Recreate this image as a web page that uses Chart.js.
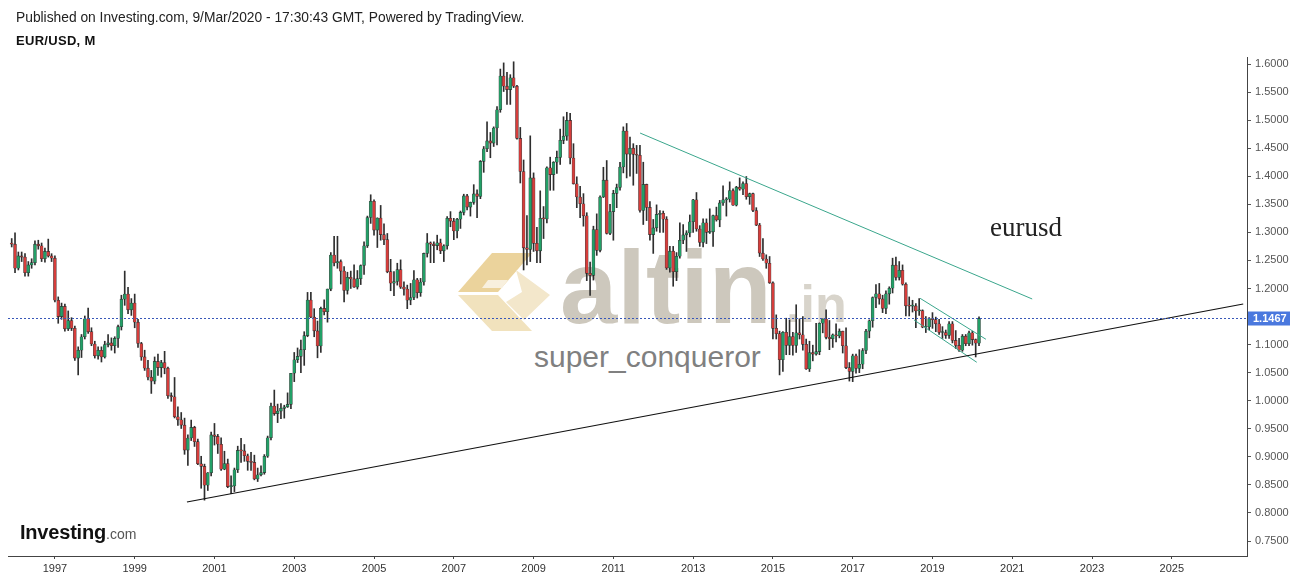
<!DOCTYPE html>
<html>
<head>
<meta charset="utf-8">
<title>EUR/USD, M</title>
<script src="https://cdn.jsdelivr.net/npm/chart.js@4.4.1/dist/chart.umd.min.js"></script>
<style>
    body { margin: 0; background: #fff; font-family: Arial, "Liberation Sans", sans-serif; }
    #wrap { position: relative; width: 1299px; height: 580px; overflow: hidden; background: #fff; }
    #chart { position: absolute; left: 0; top: 0; z-index: 1; }
    .txt { position: absolute; white-space: nowrap; line-height: 1; }
    .under { z-index: 0; }
    .over { z-index: 2; }
</style>
</head>
<body>
<div id="wrap">
    <div class="txt over" style="left:16px; top:11px; font-size:13.8px; color:#222;">Published on Investing.com, 9/Mar/2020 - 17:30:43 GMT, Powered by TradingView.</div>
    <div class="txt over" style="left:16px; top:34px; font-size:13px; font-weight:bold; letter-spacing:0.3px; color:#111;">EUR/USD, M</div>

    <!-- watermark, sits under the canvas so the candles paint over it -->
    <svg class="under" style="position:absolute; left:458px; top:250px;" width="100" height="86" viewBox="0 0 100 86">
        <polygon points="34,3 74,3 40,42 0,42" fill="#ebd39c"/>
        <polygon points="0,45 40,45 74,81 34,81" fill="#f1e2bd"/>
        <polygon points="58,20 92,45 66,70 48,52 64,42" fill="#f3e7cb"/>
        <polygon points="30,30 50,30 44,38 24,38" fill="#f8f0de"/>
    </svg>
    <div class="txt under" style="left:560px; top:236px; font-size:103px; font-weight:bold; color:#cdc8bd;">altin</div>
    <div class="txt under" style="left:786px; top:278px; font-size:52px; font-weight:bold; color:#d8d4cb;">.in</div>
    <div class="txt under" style="left:534px; top:342px; font-size:30px; color:#808080;">super_conqueror</div>

    <div class="txt over" style="left:990px; top:214px; font-size:27px; font-family:'Liberation Serif','Times New Roman',serif; color:#222;">eurusd</div>
    <div class="txt over" style="left:20px; top:522px; font-size:20px; font-weight:bold; color:#111; letter-spacing:-0.2px;">Investing<span style="font-size:14px; font-weight:normal; color:#555; letter-spacing:0;">.com</span></div>

    <canvas id="chart" width="1299" height="580"></canvas>
</div>

<script>
// monthly candles, first bar is Dec 1995, last bar is Mar 2020
const startYear = 1995;
const startMonth = 11; // 0 = Jan

const opens = [
    1.2810,
    1.2790, 1.2360, 1.2580, 1.2560, 1.2280, 1.2420, 1.2460, 1.2790, 1.2760, 1.2530, 1.2660, 1.2580,
    1.2540, 1.1790, 1.1500, 1.1680, 1.1280, 1.1430, 1.1290, 1.0760, 1.0900, 1.1140, 1.1460, 1.1230,
    1.1010, 1.0800, 1.0900, 1.0780, 1.1000, 1.1030, 1.0980, 1.1110, 1.1320, 1.1810, 1.1900, 1.1620,
    1.1740, 1.1400, 1.1020, 1.0780, 1.0580, 1.0420, 1.0350, 1.0700, 1.0590, 1.0680, 1.0580, 1.0090,
    1.0070, 0.9715, 0.9660, 0.9565, 0.9120, 0.9335, 0.9525, 0.9270, 0.8875, 0.8830, 0.8495, 0.8715,
    0.9390, 0.9365, 0.9225, 0.8780, 0.8880, 0.8470, 0.8480, 0.8770, 0.9115, 0.9105, 0.9020, 0.8920,
    0.8900, 0.8605, 0.8680, 0.8720, 0.9010, 0.9340, 0.9905, 0.9770, 0.9815, 0.9865, 0.9890, 0.9935,
    1.0490, 1.0730, 1.0790, 1.0910, 1.1160, 1.1795, 1.1490, 1.1245, 1.0975, 1.1645, 1.1585, 1.1990,
    1.2595, 1.2455, 1.2480, 1.2310, 1.1965, 1.2200, 1.2170, 1.2025, 1.2175, 1.2410, 1.2760, 1.3265,
    1.3555, 1.3040, 1.3255, 1.2960, 1.2870, 1.2300, 1.2095, 1.2125, 1.2335, 1.2025, 1.1990, 1.1790,
    1.1840, 1.2155, 1.1925, 1.2115, 1.2625, 1.2815, 1.2790, 1.2765, 1.2815, 1.2670, 1.2760, 1.3250,
    1.3200, 1.3025, 1.3235, 1.3355, 1.3650, 1.3450, 1.3535, 1.3685, 1.3640, 1.4265, 1.4490, 1.4630,
    1.4590, 1.4860, 1.5185, 1.5785, 1.5605, 1.5545, 1.5755, 1.5605, 1.4675, 1.4085, 1.2725, 1.2695,
    1.3970, 1.2805, 1.2670, 1.3250, 1.3240, 1.4150, 1.4030, 1.4250, 1.4335, 1.4640, 1.4715, 1.4995,
    1.4325, 1.3865, 1.3630, 1.3510, 1.3295, 1.2270, 1.2235, 1.3050, 1.2680, 1.3630, 1.3930, 1.2980,
    1.3370, 1.3695, 1.3800, 1.4165, 1.4805, 1.4395, 1.4500, 1.4390, 1.4375, 1.3390, 1.3855, 1.3445,
    1.2960, 1.3080, 1.3320, 1.3340, 1.3235, 1.2365, 1.2665, 1.2300, 1.2575, 1.2860, 1.2955, 1.2990,
    1.3190, 1.3580, 1.3060, 1.2820, 1.3170, 1.3000, 1.3010, 1.3300, 1.3220, 1.3525, 1.3580, 1.3590,
    1.3745, 1.3485, 1.3805, 1.3770, 1.3870, 1.3635, 1.3690, 1.3390, 1.3130, 1.2630, 1.2525, 1.2450,
    1.2100, 1.1290, 1.1195, 1.0730, 1.1220, 1.0985, 1.1145, 1.0985, 1.1210, 1.1175, 1.1005, 1.0565,
    1.0860, 1.0830, 1.0875, 1.1380, 1.1455, 1.1130, 1.1105, 1.1175, 1.1155, 1.1240, 1.0980, 1.0590,
    1.0520, 1.0800, 1.0575, 1.0650, 1.0895, 1.1240, 1.1425, 1.1840, 1.1905, 1.1815, 1.1645, 1.1905,
    1.2005, 1.2415, 1.2195, 1.2325, 1.2075, 1.1690, 1.1685, 1.1690, 1.1600, 1.1605, 1.1310, 1.1315,
    1.1465, 1.1445, 1.1370, 1.1215, 1.1215, 1.1165, 1.1370, 1.1075, 1.0985, 1.0900, 1.1150, 1.1015,
    1.1210, 1.1090, 1.1025
];

const highs = [
    1.2890,
    1.2990, 1.2650, 1.2650, 1.2620, 1.2480, 1.2530, 1.2850, 1.2860, 1.2810, 1.2720, 1.2880, 1.2620,
    1.2580, 1.1850, 1.1740, 1.1720, 1.1600, 1.1480, 1.1330, 1.0960, 1.1180, 1.1510, 1.1650, 1.1300,
    1.1060, 1.0960, 1.0960, 1.1060, 1.1180, 1.1120, 1.1140, 1.1350, 1.1880, 1.2310, 1.2020, 1.1820,
    1.1900, 1.1450, 1.1040, 1.0900, 1.0720, 1.0540, 1.0780, 1.0830, 1.0720, 1.0880, 1.0600, 1.0140,
    1.0414, 0.9890, 0.9790, 0.9690, 0.9390, 0.9655, 0.9545, 0.9315, 0.9010, 0.8870, 0.8720, 0.9440,
    0.9595, 0.9400, 0.9340, 0.9100, 0.8960, 0.8660, 0.8800, 0.9190, 0.9330, 0.9220, 0.9050, 0.9080,
    0.9030, 0.8800, 0.8840, 0.9040, 0.9370, 0.9960, 1.0190, 0.9940, 0.9950, 0.9920, 1.0140, 1.0490,
    1.0860, 1.0940, 1.1080, 1.1230, 1.1930, 1.1930, 1.1640, 1.1420, 1.1670, 1.1800, 1.1990, 1.2640,
    1.2930, 1.2930, 1.2510, 1.2390, 1.2290, 1.2310, 1.2420, 1.2320, 1.2420, 1.2830, 1.3290, 1.3670,
    1.3580, 1.3260, 1.3480, 1.3150, 1.2980, 1.2520, 1.2300, 1.2450, 1.2510, 1.2120, 1.2060, 1.2090,
    1.2320, 1.2180, 1.2180, 1.2630, 1.2980, 1.2830, 1.2830, 1.2950, 1.2880, 1.2780, 1.3280, 1.3370,
    1.3250, 1.3250, 1.3380, 1.3680, 1.3680, 1.3540, 1.3850, 1.3760, 1.4280, 1.4530, 1.4970, 1.4780,
    1.4880, 1.5240, 1.5910, 1.6020, 1.5850, 1.5810, 1.6040, 1.5620, 1.4870, 1.4290, 1.3300, 1.4720,
    1.4060, 1.3090, 1.3740, 1.3460, 1.4170, 1.4340, 1.4260, 1.4450, 1.4840, 1.5060, 1.5140, 1.5120,
    1.4580, 1.3990, 1.3820, 1.3690, 1.3350, 1.2470, 1.3110, 1.3330, 1.3650, 1.4160, 1.4280, 1.3500,
    1.3750, 1.3860, 1.4250, 1.4880, 1.4940, 1.4700, 1.4580, 1.4550, 1.4550, 1.4250, 1.3860, 1.3550,
    1.3230, 1.3490, 1.3390, 1.3380, 1.3280, 1.2750, 1.2750, 1.2640, 1.3170, 1.3140, 1.3030, 1.3310,
    1.3590, 1.3710, 1.3120, 1.3240, 1.3240, 1.3420, 1.3310, 1.3450, 1.3570, 1.3830, 1.3620, 1.3900,
    1.3775, 1.3820, 1.3970, 1.3900, 1.3995, 1.3700, 1.3700, 1.3440, 1.3160, 1.2890, 1.2600, 1.2570,
    1.2120, 1.1530, 1.1240, 1.1230, 1.1470, 1.1440, 1.1220, 1.1710, 1.1460, 1.1500, 1.1100, 1.1060,
    1.0990, 1.1380, 1.1390, 1.1460, 1.1620, 1.1430, 1.1190, 1.1370, 1.1280, 1.1240, 1.1300, 1.0680,
    1.0830, 1.0830, 1.0910, 1.0930, 1.1270, 1.1440, 1.1850, 1.2070, 1.2090, 1.1880, 1.1960, 1.2030,
    1.2540, 1.2560, 1.2480, 1.2420, 1.2100, 1.1850, 1.1790, 1.1730, 1.1820, 1.1620, 1.1500, 1.1480,
    1.1570, 1.1490, 1.1450, 1.1320, 1.1260, 1.1410, 1.1410, 1.1250, 1.1110, 1.1180, 1.1180, 1.1240,
    1.1240, 1.1100, 1.1495
];

const lows = [
    1.2740,
    1.2280, 1.2330, 1.2480, 1.2220, 1.2220, 1.2360, 1.2420, 1.2700, 1.2480, 1.2470, 1.2560, 1.2480,
    1.1760, 1.1380, 1.1450, 1.1240, 1.1250, 1.1250, 1.0720, 1.0460, 1.0770, 1.1100, 1.1200, 1.0980,
    1.0760, 1.0740, 1.0690, 1.0760, 1.0960, 1.0900, 1.0850, 1.0950, 1.1260, 1.1700, 1.1550, 1.1520,
    1.1300, 1.0950, 1.0720, 1.0540, 1.0370, 1.0130, 1.0300, 1.0450, 1.0420, 1.0480, 1.0040, 0.9990,
    0.9693, 0.9560, 0.9505, 0.9045, 0.8845, 0.9290, 0.9185, 0.8860, 0.8440, 0.8228, 0.8400, 0.8660,
    0.9210, 0.9060, 0.8760, 0.8770, 0.8450, 0.8345, 0.8380, 0.8720, 0.8900, 0.8920, 0.8760, 0.8760,
    0.8590, 0.8560, 0.8660, 0.8690, 0.8990, 0.9300, 0.9740, 0.9610, 0.9680, 0.9690, 0.9880, 0.9860,
    1.0340, 1.0680, 1.0500, 1.0630, 1.1140, 1.1480, 1.1140, 1.0765, 1.0860, 1.1530, 1.1400, 1.1960,
    1.2400, 1.2360, 1.2080, 1.1760, 1.1900, 1.2000, 1.2020, 1.1990, 1.2070, 1.2250, 1.2730, 1.3160,
    1.2950, 1.2730, 1.2860, 1.2780, 1.2280, 1.1960, 1.1870, 1.2060, 1.2000, 1.1880, 1.1640, 1.1710,
    1.1800, 1.1830, 1.1860, 1.2060, 1.2560, 1.2460, 1.2460, 1.2690, 1.2620, 1.2480, 1.2700, 1.3100,
    1.2870, 1.2900, 1.3070, 1.3310, 1.3400, 1.3290, 1.3500, 1.3260, 1.3600, 1.4070, 1.4440, 1.4330,
    1.4530, 1.4560, 1.5140, 1.5510, 1.5280, 1.5280, 1.5580, 1.4660, 1.3880, 1.2330, 1.2420, 1.2480,
    1.2660, 1.2460, 1.2460, 1.2890, 1.3170, 1.3750, 1.3750, 1.4050, 1.4210, 1.4580, 1.4640, 1.4220,
    1.3860, 1.3440, 1.3260, 1.3110, 1.2140, 1.1875, 1.2150, 1.2590, 1.2650, 1.3620, 1.2970, 1.2960,
    1.2860, 1.3440, 1.3750, 1.4060, 1.3970, 1.4000, 1.3840, 1.4050, 1.3360, 1.3140, 1.3210, 1.2860,
    1.2625, 1.3020, 1.3000, 1.3000, 1.2340, 1.2290, 1.2040, 1.2140, 1.2540, 1.2800, 1.2660, 1.2920,
    1.3000, 1.3020, 1.2750, 1.2740, 1.2800, 1.2980, 1.2750, 1.3200, 1.3100, 1.3480, 1.3290, 1.3540,
    1.3480, 1.3470, 1.3750, 1.3670, 1.3590, 1.3500, 1.3370, 1.3120, 1.2570, 1.2500, 1.2360, 1.2090,
    1.1100, 1.1100, 1.0460, 1.0520, 1.0820, 1.0820, 1.0810, 1.0860, 1.1100, 1.0900, 1.0560, 1.0520,
    1.0710, 1.0810, 1.0820, 1.1210, 1.1100, 1.0910, 1.0950, 1.1050, 1.1120, 1.0850, 1.0570, 1.0350,
    1.0340, 1.0490, 1.0500, 1.0570, 1.0840, 1.1120, 1.1310, 1.1660, 1.1720, 1.1570, 1.1550, 1.1720,
    1.1920, 1.2150, 1.2150, 1.2060, 1.1510, 1.1510, 1.1580, 1.1300, 1.1520, 1.1300, 1.1215, 1.1260,
    1.1290, 1.1230, 1.1180, 1.1110, 1.1110, 1.1110, 1.1030, 1.0930, 1.0880, 1.0880, 1.0980, 1.0980,
    1.0990, 1.0780, 1.0980
];

const closes = [
    1.2790,
    1.2360, 1.2580, 1.2560, 1.2280, 1.2420, 1.2460, 1.2790, 1.2760, 1.2530, 1.2660, 1.2580, 1.2540,
    1.1790, 1.1500, 1.1680, 1.1280, 1.1430, 1.1290, 1.0760, 1.0900, 1.1140, 1.1460, 1.1230, 1.1010,
    1.0800, 1.0900, 1.0780, 1.1000, 1.1030, 1.0980, 1.1110, 1.1320, 1.1810, 1.1900, 1.1620, 1.1740,
    1.1400, 1.1020, 1.0780, 1.0580, 1.0420, 1.0350, 1.0700, 1.0590, 1.0680, 1.0580, 1.0090, 1.0070,
    0.9715, 0.9660, 0.9565, 0.9120, 0.9335, 0.9525, 0.9270, 0.8875, 0.8830, 0.8495, 0.8715, 0.9390,
    0.9365, 0.9225, 0.8780, 0.8880, 0.8470, 0.8480, 0.8770, 0.9115, 0.9105, 0.9020, 0.8920, 0.8900,
    0.8605, 0.8680, 0.8720, 0.9010, 0.9340, 0.9905, 0.9770, 0.9815, 0.9865, 0.9890, 0.9935, 1.0490,
    1.0730, 1.0790, 1.0910, 1.1160, 1.1795, 1.1490, 1.1245, 1.0975, 1.1645, 1.1585, 1.1990, 1.2595,
    1.2455, 1.2480, 1.2310, 1.1965, 1.2200, 1.2170, 1.2025, 1.2175, 1.2410, 1.2760, 1.3265, 1.3555,
    1.3040, 1.3255, 1.2960, 1.2870, 1.2300, 1.2095, 1.2125, 1.2335, 1.2025, 1.1990, 1.1790, 1.1840,
    1.2155, 1.1925, 1.2115, 1.2625, 1.2815, 1.2790, 1.2765, 1.2815, 1.2670, 1.2760, 1.3250, 1.3200,
    1.3025, 1.3235, 1.3355, 1.3650, 1.3450, 1.3535, 1.3685, 1.3640, 1.4265, 1.4490, 1.4630, 1.4590,
    1.4860, 1.5185, 1.5785, 1.5605, 1.5545, 1.5755, 1.5605, 1.4675, 1.4085, 1.2725, 1.2695, 1.3970,
    1.2805, 1.2670, 1.3250, 1.3240, 1.4150, 1.4030, 1.4250, 1.4335, 1.4640, 1.4715, 1.4995, 1.4325,
    1.3865, 1.3630, 1.3510, 1.3295, 1.2270, 1.2235, 1.3050, 1.2680, 1.3630, 1.3930, 1.2980, 1.3370,
    1.3695, 1.3800, 1.4165, 1.4805, 1.4395, 1.4500, 1.4390, 1.4375, 1.3390, 1.3855, 1.3445, 1.2960,
    1.3080, 1.3320, 1.3340, 1.3235, 1.2365, 1.2665, 1.2300, 1.2575, 1.2860, 1.2955, 1.2990, 1.3190,
    1.3580, 1.3060, 1.2820, 1.3170, 1.3000, 1.3010, 1.3300, 1.3220, 1.3525, 1.3580, 1.3590, 1.3745,
    1.3485, 1.3805, 1.3770, 1.3870, 1.3635, 1.3690, 1.3390, 1.3130, 1.2630, 1.2525, 1.2450, 1.2100,
    1.1290, 1.1195, 1.0730, 1.1220, 1.0985, 1.1145, 1.0985, 1.1210, 1.1175, 1.1005, 1.0565, 1.0860,
    1.0830, 1.0875, 1.1380, 1.1455, 1.1130, 1.1105, 1.1175, 1.1155, 1.1240, 1.0980, 1.0590, 1.0520,
    1.0800, 1.0575, 1.0650, 1.0895, 1.1240, 1.1425, 1.1840, 1.1905, 1.1815, 1.1645, 1.1905, 1.2005,
    1.2415, 1.2195, 1.2325, 1.2075, 1.1690, 1.1685, 1.1690, 1.1600, 1.1605, 1.1310, 1.1315, 1.1465,
    1.1445, 1.1370, 1.1215, 1.1215, 1.1165, 1.1370, 1.1075, 1.0985, 1.0900, 1.1150, 1.1015, 1.1210,
    1.1090, 1.1025, 1.1467
];

const lastPrice = 1.1467;

// axis labels
const xTickYears = [1997, 1999, 2001, 2003, 2005, 2007, 2009, 2011, 2013, 2015, 2017, 2019, 2021, 2023, 2025];
const yTickValues = [0.75, 0.80, 0.85, 0.90, 0.95, 1.00, 1.05, 1.10, 1.15, 1.20, 1.25, 1.30, 1.35, 1.40, 1.45, 1.50, 1.55, 1.60];

// hand drawn trendlines, as (year, price) end points
const supportLine = [{ x: 2000.31, y: 0.8195 }, { x: 2026.79, y: 1.1723 }];
const resistanceLine = [{ x: 2011.67, y: 1.4770 }, { x: 2021.50, y: 1.1813 }];
const channelTop = [{ x: 2018.69, y: 1.1825 }, { x: 2020.34, y: 1.1095 }];
const channelBottom = [{ x: 2018.54, y: 1.1438 }, { x: 2020.11, y: 1.0685 }];

const UP = '#22a067';
const DOWN = '#d63d3b';
const TREND = '#3aa68c';


$(initializeCandleChart);

function $(fn) { document.readyState === 'loading' ? document.addEventListener('DOMContentLoaded', fn) : fn(); }

// decimal year of a bar
function barX(i) {
    return startYear + (startMonth + i) / 12;
}

// dotted last price line + blue price tag on the axis
const lastPricePlugin = {
    id: 'lastPrice',
    afterDatasetsDraw(chart) {
        let ctx = chart.ctx;
        let area = chart.chartArea;
        let y = Math.round(chart.scales.y.getPixelForValue(lastPrice)) + 0.5;
        ctx.save();
        ctx.strokeStyle = '#3857b8';
        ctx.lineWidth = 1;
        ctx.setLineDash([2, 2]);
        ctx.beginPath();
        ctx.moveTo(area.left, y);
        ctx.lineTo(area.right, y);
        ctx.stroke();
        ctx.setLineDash([]);
        ctx.fillStyle = '#4a78de';
        ctx.fillRect(area.right + 1, y - 7, 42, 14);
        ctx.fillStyle = '#fff';
        ctx.font = 'bold 11px Arial, "Liberation Sans", sans-serif';
        ctx.textBaseline = 'middle';
        ctx.fillText(lastPrice.toFixed(4), area.right + 6, y);
        ctx.restore();
    }
};

function initializeCandleChart() {
    let wicks = [];
    let bodies = [];
    let bodyColors = [];
    for (let i = 0; i < closes.length; i++) {
        wicks.push({ x: barX(i), y: [lows[i], highs[i]] });
        bodies.push({ x: barX(i), y: [opens[i], closes[i]] });
        bodyColors.push(closes[i] >= opens[i] ? UP : DOWN);
    }

    let trend = function (data, color, width) {
        return {
            type: 'line',
            data: data,
            borderColor: color,
            borderWidth: width,
            pointRadius: 0,
            fill: false,
            tension: 0,
            order: 0
        };
    };

    let ctx = document.getElementById('chart').getContext('2d');
    let candleChart = new Chart(ctx, {
        type: 'bar',
        data: {
            datasets: [
                trend(supportLine, '#111', 1.2),
                trend(resistanceLine, TREND, 1),
                trend(channelTop, TREND, 1),
                trend(channelBottom, TREND, 1),
                {
                    label: 'body',
                    data: bodies,
                    backgroundColor: bodyColors,
                    borderColor: 'rgba(35,35,35,0.8)',
                    borderWidth: 0.6,
                    borderSkipped: false,
                    barThickness: 3,
                    minBarLength: 1,
                    grouped: false,
                    order: 1
                },
                {
                    label: 'wick',
                    data: wicks,
                    backgroundColor: '#2e2e2e',
                    barThickness: 1,
                    grouped: false,
                    order: 2
                }
            ]
        },
        options: {
            responsive: false,
            animation: false,
            layout: {
                padding: { left: 8, top: 57, right: 0, bottom: 0 }
            },
            plugins: {
                legend: { display: false },
                tooltip: { enabled: false }
            },
            scales: {
                x: {
                    type: 'linear',
                    min: 1995.824,
                    max: 2026.885,
                    offset: false,
                    afterFit: function (scale) { scale.height = 24; },
                    afterBuildTicks: function (scale) {
                        scale.ticks = xTickYears.map(v => ({ value: v }));
                    },
                    grid: { offset: false, drawOnChartArea: false, drawTicks: true, tickLength: 3, color: '#444' },
                    border: { display: true, color: '#444', width: 1 },
                    ticks: {
                        autoSkip: false,
                        maxRotation: 0,
                        padding: 3,
                        color: '#333',
                        font: { family: 'Arial, "Liberation Sans", sans-serif', size: 11 },
                        callback: function (value) { return String(value); }
                    }
                },
                y: {
                    position: 'right',
                    min: 0.7233,
                    max: 1.6125,
                    afterFit: function (scale) { scale.width = 52; },
                    afterBuildTicks: function (scale) {
                        scale.ticks = yTickValues.map(v => ({ value: v }));
                    },
                    grid: { drawOnChartArea: false, drawTicks: true, tickLength: 4, color: '#555' },
                    border: { display: true, color: '#444', width: 1 },
                    ticks: {
                        autoSkip: false,
                        padding: 4,
                        color: '#555',
                        font: { family: 'Arial, "Liberation Sans", sans-serif', size: 11 },
                        callback: function (value) { return value.toFixed(4); }
                    }
                }
            }
        },
        plugins: [lastPricePlugin]
    });
}
</script>
</body>
</html>
